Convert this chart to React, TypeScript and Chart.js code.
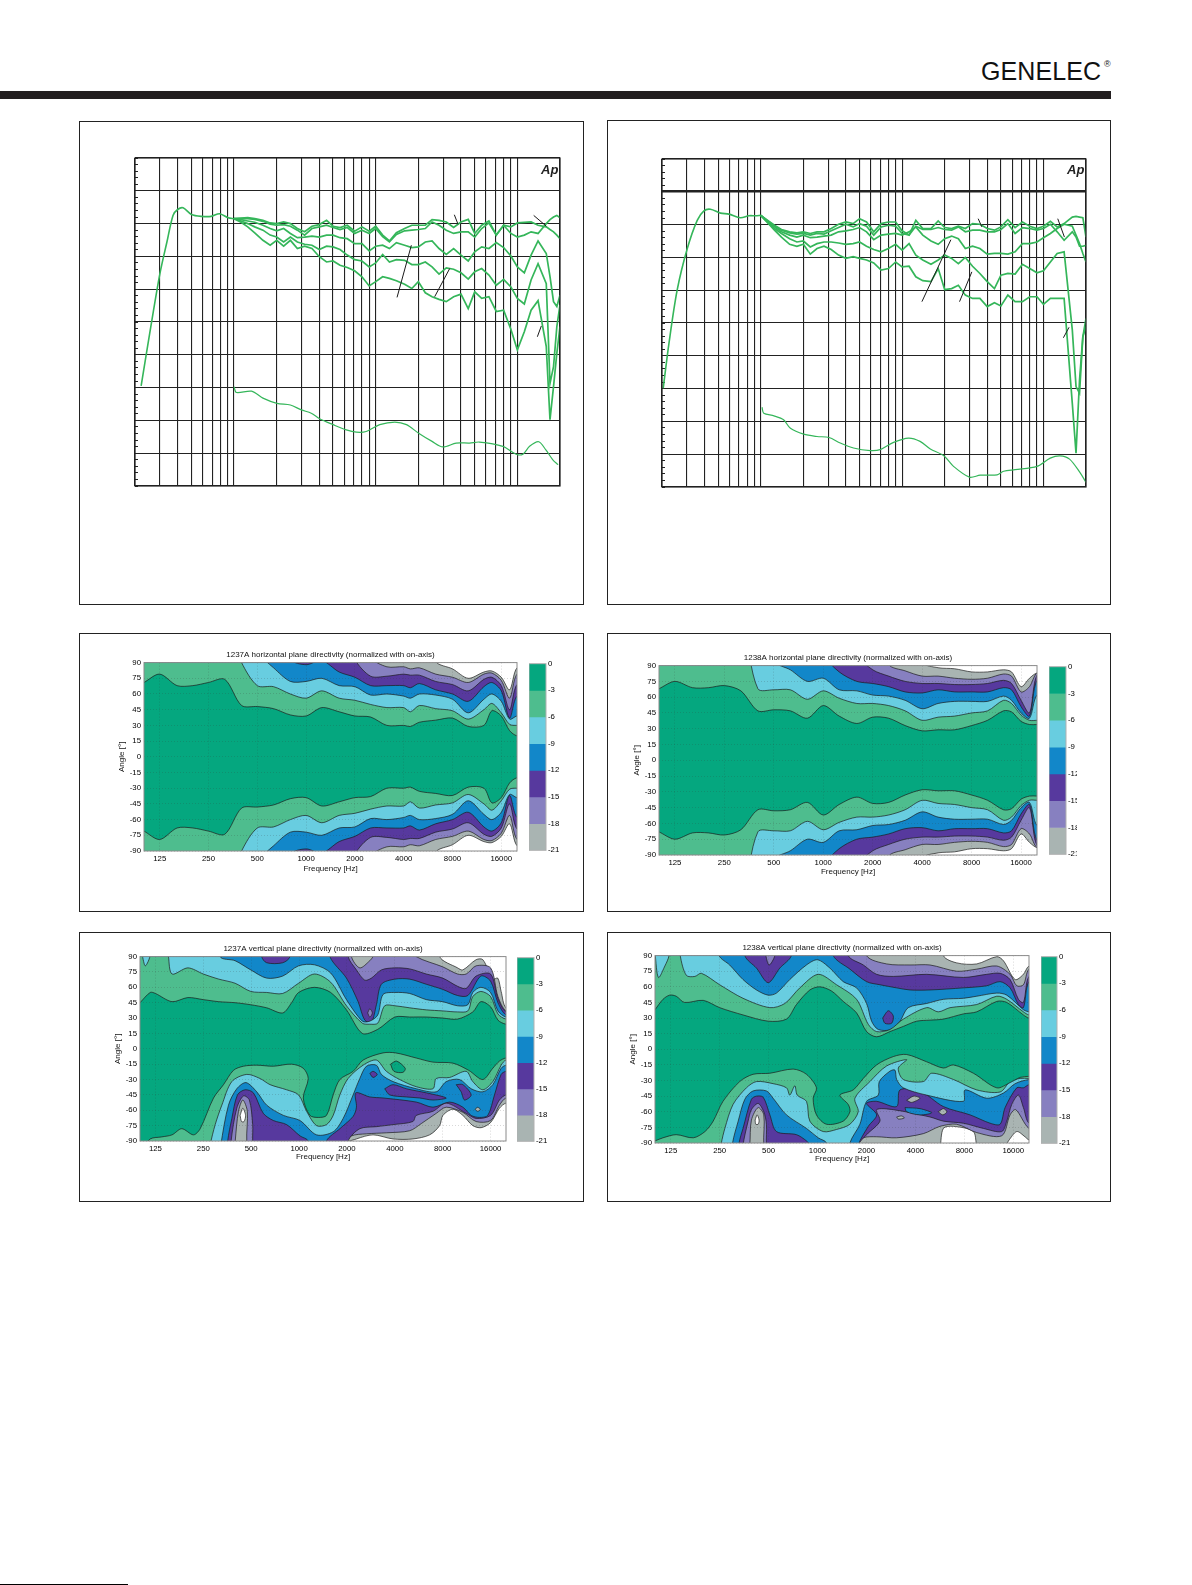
import React, { useEffect, useRef } from "react";
import { Chart, registerables } from "chart.js";

Chart.register(...registerables);

// ---------- frequency-response panels (dB vs Hz) ----------
const responseGridHz = [20,30,40,50,60,70,80,90,100,200,300,400,500,600,700,800,900,1000,2000,3000,4000,5000,6000,7000,8000,9000,10000,20000];
const responseHz = [100,112,125,140,160,180,200,224,250,280,315,355,400,450,500,560,630,710,800,900,1000,1120,1250,1400,1600,1800,2000,2240,2500,2800,3150,3550,4000,4500,5000,5600,6300,7100,8000,9000,10000,11200,12500,14000,16000,17000,18000,19000,20000];

const r37LowHz = [22.1,25.4,30,33.6,37.1,40,43.7,50,59,69,79,91,100];
const r37LowDb = [-49.5,-33.5,-15.2,-5.6,2.5,4.3,4.8,2.8,2.2,2.2,3,1.8,1.5];
const r37A = [1.5,1.7,1.8,1.5,1,.2,0,.5,0,-1.5,-2.5,-.8,-.3,1,-.8,-1.2,-.5,-2.3,-1,-2.3,-.8,-3.5,-5.3,-2.8,-1.5,-.5,-.5,-.5,1.2,1,.5,-1.2,.5,1.3,-3,-.5,.8,-3.5,-.5,-3,-4.1,-3.5,-2.5,-3,0,1.2,2,2.5,1.8];
const r37B = [1.5,1.5,1.5,1.3,.7,-.2,-.5,-.3,-.8,-2,-3.5,-1.5,-1,-.5,-1.2,-1.8,-1.2,-3,-2,-3,-1.5,-4,-5.6,-3.3,-2.2,-2,-1.8,-1.5,.5,-.5,-2,-3,-2.5,-2.5,-4.1,-1.5,.2,-3.5,-.5,-1,.2,.4,.5,-.5,-1,-1.8,-2.5,-3.5,-4.6];
const r37C = [1.5,1.2,.8,.4,-.5,-1.5,-2.2,-1.5,-3,-4.3,-4.1,-3.8,-4.1,-3.5,-3.5,-4.3,-4.6,-6.1,-6.1,-8.3,-6.9,-6.6,-7.6,-5.8,-6.6,-7.3,-7.1,-5.6,-5.3,-7.6,-9.4,-7.6,-9.6,-11.4,-8.6,-7.1,-7.6,-5.8,-7.3,-9.9,-13.2,-15,-9.6,-5.3,-9.1,-16.2,-23.8,-25.3,-21.8];
const r37D = [1.5,.8,0,-1,-2,-3.5,-4.1,-5.6,-4.1,-5.6,-6.3,-6.6,-7.9,-6.9,-7.1,-7.9,-9.6,-11,-11.4,-13.2,-12,-9.4,-11.7,-11,-11.2,-12.5,-12.5,-11.7,-13.2,-15.4,-13.5,-13.9,-15,-16.9,-14.7,-13.7,-15.7,-18.8,-17,-19.3,-22.8,-24.5,-17.2,-12.2,-18.3,-48.7,-43.6,-31.4,-24.8];
const r37E = [1.5,.4,-1,-2.8,-5.1,-6.6,-5.1,-6.9,-5.1,-7.6,-6.9,-7.6,-10.1,-11.7,-11.4,-12.7,-13.4,-14.4,-16.2,-19,-17.7,-16.2,-16.7,-17.4,-18.5,-19.8,-17.7,-21.1,-22.3,-23.1,-23.8,-22.3,-21.5,-25.9,-20.8,-22.8,-22.3,-26.8,-26.4,-32.2,-38.5,-33,-26.4,-23.5,-37.5,-59.8,-49.7,-39.5,-31.4];
const r37DiHz = [100,104,133,160,201,250,299,351,402,500,620,730,857,1068,1365,1650,2010,2500,2980,3700,4600,5400,7900,9800,10950,12200,14150,15900,17800,19400];
const r37DiDb = [-49.7,-51.5,-51.1,-53.2,-54.8,-55.3,-56.8,-57.8,-59.5,-61.3,-62.9,-63.6,-63.4,-61.3,-60.5,-61.3,-63.9,-66.4,-68.1,-66.9,-66.9,-66.6,-67.9,-70.3,-70.3,-67.9,-66.5,-69,-72,-73.5];
const r37Leaders = [[[3590,2.7],[3812,-.2]],[[13040,2.5],[16020,-.8]],[[1786,-6.6],[1415,-22.5]],[[3329,-13.7],[2608,-22.3]],[[14770,-31.2],[13840,-34.5]]];

const r38LowHz = [20.4,22.4,25.6,30.2,35.5,39.6,44,51.9,59.4,71.8,82.3,91.7,100];
const r38LowDb = [-49.9,-36.2,-20,-7.3,1.3,4.2,4.7,3.5,3.2,2.1,2.7,2.7,2.8];
const r38A = [2.8,1.3,-.2,-1.5,-2.2,-2.5,-2.2,-2.7,-2.2,-2.2,-1.2,.1,.8,.3,1.8,.8,-2.2,.3,.8,.8,-1.9,-3.2,1.3,-1.2,-1.2,1.1,-.9,-1.2,-.5,-1.2,.3,.1,-1.2,-1.7,-.7,1.5,-.9,.8,-.5,-1.2,-.5,1,-.7,.3,2.3,2.5,2.3,2.1,-3.8];
const r38B = [2.8,1.1,-.4,-1.7,-2.5,-2.9,-2.7,-3.2,-2.7,-2.9,-1.9,-.9,.1,-.7,.3,-.5,-3.2,-.7,-.2,-.5,-2.7,-3.2,-.5,-1.5,-1.5,-.9,-1.5,-1.7,-.7,-2.2,-1.7,-1.7,-2.2,-2.2,-1.5,.3,-2.7,-.9,-1.2,-1.7,-1.2,.1,-2.2,-4.8,-2.2,-3.8,-6.6,-6.6,-6.3];
const r38C = [2.8,.9,-.7,-2.2,-3.2,-3.8,-3.2,-4,-3.8,-3.5,-3.2,-2.2,-1.9,-1.5,-.9,-2.2,-4.6,-3.2,-2.9,-2.7,-3.2,-2.2,-.7,-3.2,-5,-6,-4.3,-3.5,-4.3,-7.3,-6.6,-7.3,-9,-8.8,-8.8,-9,-8.3,-5.8,-5.8,-5.3,-4,-2.7,-1.2,.1,-.5,-3.2,-5.8,-8.8,-11.4];
const r38D = [2.8,.7,-1.2,-2.7,-4.3,-5.3,-5,-6.8,-5.8,-5.3,-5.3,-5.6,-6,-5.8,-5.3,-6.6,-7.6,-8.3,-7.3,-6,-7.8,-5.8,-9.3,-10.8,-12.1,-10.8,-9.3,-10.3,-11.9,-10,-12.7,-14.9,-17.4,-19.5,-15.4,-14.9,-15.1,-12.1,-13.4,-14.7,-14.1,-11.4,-8.8,-8.3,-32.1,-49.4,-51.4,-34.2,-28.6];
const r38E = [2.8,.5,-1.7,-3.8,-6,-6.6,-6,-9,-7.3,-6.6,-7.6,-9.3,-10.3,-9.8,-10.3,-10.8,-11.7,-13.9,-13.4,-11.4,-12.9,-12.7,-15.9,-17.1,-17.4,-13.4,-19.8,-19.5,-18.5,-21.5,-22.5,-22.5,-25,-23.8,-24.8,-21.5,-23.5,-23.5,-22,-22,-24.3,-22.5,-22.5,-22.5,-54.5,-69.7,-47.4,-34.2,-31.1];
const r38DiHz = [102,105,124,145,162,201,250,304,365,453,595,700,870,1110,1340,1583,1965,2310,2995,3570,4700,5230,6300,9000,11170,13100,15300,18200,20000];
const r38DiDb = [-55.7,-57.5,-58.3,-59.5,-62.1,-63.9,-64.6,-64.9,-66.6,-68.1,-68.9,-68.6,-66.4,-65.1,-66.1,-68.4,-70.4,-73.7,-77,-76.4,-76.3,-75.2,-74.7,-73.7,-71.2,-70.5,-71.5,-75.7,-78.6];
const r38Leaders = [[[2214,-4.6],[1380,-23.5]],[[3115,-14.4],[2548,-23.5]],[[3453,1.8],[3666,-.7]],[[12620,1.8],[14070,-3.8]],[[15180,-31.3],[13840,-34.5]]];

// ---------- directivity contours (angle in degrees vs Hz) ----------
const octaveTicks = [125,250,500,1000,2000,4000,8000,16000];
const angleTicks = [-90,-75,-60,-45,-30,-15,0,15,30,45,60,75,90];
const colorbarBins = [-3,-3,-3,-3,-3,-3,-3];
const bandColors = ["#05a77f","#4ebd8e","#68cde0","#1287c9","#57399e","#8780c0","#a9b4b2"];

const h37Hz = [100,125,160,200,250,315,400,500,630,800,1000,1250,1600,2000,2500,3150,4000,4400,5000,6300,8000,10000,12500,14000,16000,18000,20000];
const h37L3 = [71,79,68,68,71,74,49,48,46,40,39,47,43,39,38,30,30,29,33,35,37,29,30,44,39,25,20];
const h37L6 = [130,130,130,130,130,130,90,68,67,60,56,63,56,54,50,47,47,43,49,46,44,36,45,51,42,31,30];
const h37L9 = [130,130,130,130,130,130,130,100,85,72,72,75,68,67,59,60,58,56,60,59,55,42,55,60,53,36,39];
const h37L12 = [130,130,130,130,130,130,130,130,130,93,88,92,81,76,68,68,68,66,70,64,60,53,67,71,63,37,58];
const h37L15 = [130,130,130,130,130,130,130,130,130,130,130,130,130,93,77,77,79,78,78,72,69,63,74,76,68,45,69];
const h37L18 = [130,130,130,130,130,130,130,130,130,130,130,130,130,130,95,86,86,84,85,79,76,71,79,80,73,56,79];
const h37L21 = [130,130,130,130,130,130,130,130,130,130,130,130,130,130,130,130,130,130,130,91,84,75,81,82,76,64,85];

const h38Hz = [100,125,160,200,250,315,400,500,630,800,1000,1250,1600,2000,2500,3150,4000,5000,6300,8000,10000,12500,14000,16000,18000,20000];
const h38L3 = [68,75,69,69,71,66,47,48,47,40,52,42,35,41,40,33,28,29,29,33,38,47,46,37,34,34];
const h38L6 = [130,130,130,130,130,130,68,67,67,58,66,59,54,54,52,47,38,41,42,45,47,57,54,43,38,38];
const h38L9 = [130,130,130,130,130,130,130,94,86,75,78,67,66,62,61,57,49,54,56,56,56,61,57,45,40,62];
const h38L12 = [130,130,130,130,130,130,130,130,130,130,100,84,75,73,70,65,64,67,65,65,65,69,67,51,42,76];
const h38L15 = [130,130,130,130,130,130,130,130,130,130,130,130,100,86,80,75,73,73,72,72,73,76,73,57,45,81];
const h38L18 = [130,130,130,130,130,130,130,130,130,130,130,130,130,130,91,85,80,80,78,77,78,82,80,65,70,83];
const h38L21 = [130,130,130,130,130,130,130,130,130,130,130,130,130,130,130,130,93,88,87,84,84,86,84,70,78,83];

type P = number[];
const v37U3: P[] = [[100,45],[116,55],[125,54],[159,46],[200,50],[250,48],[313,46],[396,45],[497,43],[626,40],[789,35],[898,45],[993,55],[1250,60],[1580,55],[1986,38],[2500,15],[3124,19],[4000,31],[4960,31],[6310,31],[8000,30],[9920,29],[12370,36],[13900,46],[16000,41],[17800,28],[20000,24]];
const v37U6: P[] = [[100,130],[140,130],[151,90],[159,73],[200,79],[250,73],[313,68],[396,64],[497,56],[626,55],[789,54],[993,64],[1250,73],[1580,65],[1986,42],[2500,25],[2785,24],[3124,25],[3455,42],[4000,42],[4960,40],[6310,38],[8000,37],[9920,36],[11510,37],[12370,51],[13900,56],[16000,51],[17800,34],[20000,29]];
const v37U9: P[] = [[100,130],[300,130],[319,90],[396,86],[497,77],[626,69],[789,71],[993,81],[1250,82],[1580,74],[1986,48],[2500,27],[2785,27],[3124,33],[3373,53],[4000,55],[4960,54],[6310,48],[8000,46],[9920,42],[11510,43],[12370,55],[13900,60],[16000,55],[17800,37],[20000,31]];
const v37U12: P[] = [[100,130],[540,130],[582,90],[626,84],[789,84],[877,90],[930,130],[1400,130],[1562,90],[1986,69],[2351,46],[2588,28],[2850,26],[3064,43],[3293,63],[4000,68],[4960,68],[6310,63],[8000,58],[9920,52],[11510,52],[13900,71],[16000,66],[17800,45],[20000,33]];
const v37U15: P[] = [[100,130],[1900,130],[2034,90],[2295,77],[2588,67],[2850,69],[3293,77],[4000,79],[4960,78],[6310,73],[8000,69],[9920,61],[11240,59],[12980,71],[16000,73],[17800,49],[20000,36]];
const v37U18: P[] = [[100,130],[2000,130],[2135,90],[2409,79],[2785,86],[2920,90],[3200,100],[5000,100],[5458,90],[8000,80],[9920,73],[11240,73],[12980,81],[16000,79],[17800,51],[20000,37]];
const v37U21: P[] = [[100,130],[7000,130],[7648,90],[9920,79],[10710,77],[12980,87],[14300,87],[16520,68],[17750,69],[18640,56],[20000,40]];
const v37D3: P[] = [[100,-100],[116,-88],[137,-86],[159,-84],[183,-78],[217,-84],[239,-78],[290,-48],[335,-35],[387,-21],[447,-17],[542,-16],[689,-17],[898,-15],[1063,-19],[1142,-29],[1063,-48],[1170,-65],[1320,-67],[1488,-65],[1639,-45],[1805,-30],[2187,-22],[2527,-11],[3373,-4],[4050,-4],[5458,-9],[6948,-13],[9270,-14],[11650,-21],[14300,-30],[16520,-19],[18190,-12],[20000,-9]];
const v37D6: P[] = [[100,-130],[250,-130],[276,-94],[297,-74],[327,-55],[378,-32],[469,-25],[568,-29],[657,-35],[835,-40],[993,-45],[1115,-61],[1288,-75],[1488,-74],[1639,-65],[1805,-45],[2034,-29],[2527,-16],[3064,-11],[3540,-22],[4292,-30],[5458,-37],[6948,-39],[7285,-29],[8835,-28],[11240,-22],[12370,-32],[14300,-40],[16520,-32],[18640,-16],[20000,-11]];
const v37D9: P[] = [[100,-130],[300,-130],[322,-94],[360,-55],[406,-39],[464,-33],[542,-42],[626,-55],[797,-65],[1013,-70],[1288,-84],[1639,-81],[1893,-68],[2187,-45],[2409,-29],[2652,-17],[3064,-16],[3293,-25],[3898,-32],[5458,-39],[7285,-42],[8420,-32],[10210,-30],[12080,-39],[14300,-42],[16520,-35],[18640,-19],[20000,-16]];
const v37D12: P[] = [[100,-130],[340,-130],[356,-90],[378,-68],[410,-45],[458,-40],[516,-43],[596,-63],[689,-70],[835,-74],[1013,-85],[1142,-90],[1200,-120],[1400,-120],[1488,-90],[1805,-78],[2187,-66],[2295,-57],[2273,-43],[2785,-47],[3373,-48],[5458,-52],[6948,-57],[8835,-52],[10710,-57],[12080,-65],[13620,-67],[15370,-65],[16930,-45],[18640,-25],[20000,-22]];
const v37D15: P[] = [[100,-130],[360,-130],[374,-90],[406,-58],[447,-46],[487,-50],[511,-74],[511,-90],[530,-120],[1900,-120],[2034,-90],[2409,-78],[3064,-76],[3898,-74],[5197,-71],[5458,-65],[6948,-61],[8420,-53],[11240,-63],[12980,-68],[16000,-65],[18190,-50],[20000,-45]];
const v37D18: P[] = [[100,-130],[380,-130],[397,-90],[416,-61],[443,-50],[473,-61],[469,-90],[500,-120],[1700,-120],[1822,-94],[2135,-85],[2652,-83],[3540,-82],[4960,-80],[5868,-73],[7285,-63],[8420,-57],[10710,-62],[12980,-71],[16000,-70],[18190,-55],[20000,-48]];
const v37D21: P[] = [[100,-130],[1700,-130],[1893,-94],[2295,-88],[2920,-84],[3898,-88],[5197,-88],[6620,-84],[7648,-75],[8023,-65],[9270,-59],[10710,-65],[12370,-75],[13950,-77],[16000,-72],[18190,-58],[20000,-53]];
const v37HoleWhite: P[] = [[426,-65],[443,-58],[461,-65],[451,-71],[435,-71]];
const v37BlobLightBlue: P[] = [[103,92],[108,81],[116,92],[110,100]];
const v37BlobTeal: P[] = [[3760,-15],[4100,-12],[4650,-19],[4500,-23],[3950,-22]];
const v37BlobLilac: P[] = [[2700,35],[2785,39],[2890,35],[2785,31]];
const v37PurpleA: P[] = [[3455,-39],[3898,-35],[4724,-39],[6310,-43],[8420,-48],[6948,-50],[5727,-48],[4724,-47],[3714,-45]];
const v37PurpleB: P[] = [[9730,-35],[10710,-35],[12080,-45],[10970,-50],[10450,-42]];
const v37PurpleC: P[] = [[2785,-24],[2920,-22],[3100,-25],[2920,-28]];
const v37GreyDot: P[] = [[13300,-57],[13800,-59],[13300,-61],[12800,-59]];

const v38U3: P[] = [[100,38],[112,48],[123,52],[135,51],[152,45],[198,47],[250,40],[348,33],[497,27],[644,29],[742,43],[897,57],[1033,60],[1219,56],[1439,46],[1738,35],[2004,17],[2309,12],[2789,17],[3371,22],[4072,27],[4919,28],[5944,29],[7896,34],[9540,36],[12670,46],[14600,45],[18480,33],[20000,30]];
const v38U6: P[] = [[100,92],[105,69],[115,80],[122,90],[128,120],[138,120],[143,90],[156,71],[176,70],[193,73],[250,62],[348,49],[509,40],[629,44],[778,59],[1009,72],[1309,62],[1738,48],[2052,24],[2309,17],[2789,19],[3371,29],[4693,40],[5536,36],[6534,40],[9540,43],[12670,51],[14600,48],[18480,36],[20000,33]];
const v38U9: P[] = [[100,130],[220,130],[248,90],[288,81],[348,67],[421,57],[497,52],[559,54],[675,67],[855,81],[1000,86],[1191,78],[1439,65],[1738,59],[2004,44],[2151,27],[2364,19],[2856,19],[3217,27],[3617,40],[4693,44],[5944,48],[7896,49],[9540,51],[12670,54],[14600,52],[18480,38],[20000,36]];
const v38U12: P[] = [[100,130],[340,130],[357,90],[421,78],[497,64],[586,78],[691,90],[760,130],[1100,130],[1249,90],[1582,77],[2004,65],[2421,62],[3067,59],[3702,57],[4919,57],[7896,59],[10990,61],[13280,65],[15300,59],[17220,43],[18480,40],[20000,65]];
const v38U15: P[] = [[100,130],[440,130],[481,90],[504,81],[546,90],[600,130],[1400,130],[1545,90],[1912,81],[2309,72],[2924,70],[4693,72],[7896,69],[10990,72],[13280,73],[15300,67],[17220,48],[18480,45],[20000,70]];
const v38U18: P[] = [[100,130],[1800,130],[2004,90],[2661,82],[3702,81],[4919,81],[7184,75],[9540,77],[12670,80],[15300,72],[16820,61],[18480,62],[20000,77]];
const v38U21: P[] = [[100,130],[5300,130],[5944,90],[7184,83],[9540,82],[12670,89],[13930,85],[16430,67],[18480,72],[20000,80]];
const v38D3: P[] = [[100,-88],[112,-85],[135,-82],[172,-85],[203,-79],[228,-69],[262,-50],[332,-31],[401,-24],[509,-23],[708,-19],[855,-24],[985,-37],[940,-47],[985,-63],[1136,-72],[1439,-69],[1582,-60],[1545,-53],[1373,-44],[1658,-39],[1912,-28],[2309,-15],[2924,-7],[3534,-5],[4693,-12],[5944,-18],[6852,-15],[9095,-23],[12670,-37],[15300,-32],[17640,-27],[20000,-26]];
const v38D6: P[] = [[100,-130],[230,-130],[256,-90],[269,-76],[302,-53],[365,-37],[421,-31],[533,-33],[644,-37],[675,-44],[725,-35],[750,-44],[855,-50],[897,-69],[1084,-79],[1309,-77],[1582,-72],[1780,-60],[1698,-47],[2101,-31],[2661,-16],[3534,-10],[3141,-18],[3371,-29],[4476,-31],[5038,-23],[6852,-29],[9540,-39],[13280,-41],[15300,-31],[17640,-28],[20000,-28]];
const v38D9: P[] = [[100,-130],[280,-130],[300,-90],[325,-69],[357,-48],[401,-40],[485,-40],[533,-47],[644,-63],[855,-76],[1009,-85],[1136,-90],[1200,-120],[1500,-120],[1582,-90],[1822,-72],[2004,-50],[2364,-44],[2398,-31],[2789,-21],[2994,-20],[3067,-29],[3371,-37],[4693,-44],[7896,-50],[8085,-39],[10990,-47],[13930,-42],[16430,-33],[20000,-29]];
const v38D12: P[] = [[100,-130],[310,-130],[329,-90],[348,-76],[392,-48],[421,-45],[463,-46],[509,-63],[559,-79],[742,-82],[855,-88],[897,-92],[950,-120],[1650,-120],[1780,-92],[2052,-74],[2309,-63],[2004,-52],[2309,-50],[3067,-55],[3217,-39],[4269,-40],[5944,-55],[8680,-63],[11530,-71],[13280,-72],[14260,-56],[16820,-37],[18480,-37],[20000,-34]];
const v38D15: P[] = [[100,-130],[330,-130],[348,-92],[374,-69],[392,-58],[431,-52],[467,-60],[485,-72],[485,-92],[520,-120],[1650,-120],[1780,-92],[2004,-82],[2421,-69],[2309,-58],[2924,-58],[4919,-65],[5944,-69],[7896,-71],[10480,-76],[13600,-79],[14600,-69],[15660,-53],[17220,-44],[18480,-56],[20000,-71]];
const v38D18: P[] = [[100,-130],[360,-130],[383,-92],[392,-68],[431,-56],[467,-63],[467,-92],[500,-120],[1650,-120],[1738,-92],[1912,-85],[2309,-84],[3067,-85],[4476,-81],[5670,-74],[7184,-72],[9540,-80],[13600,-83],[15300,-63],[16580,-58],[20000,-76]];
const v38D21: P[] = [[100,-130],[5000,-130],[5670,-95],[5944,-76],[6852,-74],[9095,-79],[9780,-95],[13930,-95],[14950,-88],[16820,-79],[18900,-84],[20000,-87]];
const v38HoleWhite: P[] = [[413,-68],[425,-63],[437,-68],[431,-72],[417,-72]];
const v38PurpleFinger: P[] = [[2514,30],[2725,37],[2924,32],[2856,25],[2599,25]];
const v38GreyA: P[] = [[3534,-49],[3900,-45],[4269,-47],[3800,-51]];
const v38GreyB: P[] = [[5536,-60],[5944,-57],[6250,-60],[5900,-63]];
const v38GreyC: P[] = [[3067,-65],[3290,-64],[3420,-66],[3141,-67]];
const v38BlueIsle: P[] = [[3451,-56],[4269,-57],[5038,-61],[4269,-63],[3534,-60]];

// ---------- helpers ----------
const FONT = "'Liberation Sans', Arial, sans-serif";
const OFF_RIGHT = 24000;
const zip = (xs: number[], ys: number[]): P[] => xs.map((x, i) => [x, ys[i]]);
const mirror = (pts: P[]): P[] => pts.map(([x, y]) => [x, -y]);
const closedBand = (upper: P[], lower: P[]): P[] => [
  ...upper,
  [OFF_RIGHT, upper[upper.length - 1][1]],
  [OFF_RIGHT, lower[lower.length - 1][1]],
  ...[...lower].reverse(),
];
const ring = (pts: P[]): P[] => [...pts, pts[0]];
const xy = (pts: P[]) => pts.map(([x, y]) => ({ x, y }));

const polygonFill = {
  id: "polygonFill",
  beforeDatasetDraw(chart: any, args: any) {
    const ds = chart.data.datasets[args.index];
    if (!ds.regionColor) return;
    const { ctx, chartArea: a } = chart;
    ctx.save();
    ctx.beginPath();
    ctx.rect(a.left, a.top, a.right - a.left, a.bottom - a.top);
    ctx.clip();
    ctx.beginPath();
    args.meta.dataset.path(ctx);
    ctx.closePath();
    ctx.fillStyle = ds.regionColor;
    ctx.fill();
    ctx.restore();
  },
};

const plotFrame = {
  id: "plotFrame",
  afterDraw(chart: any, _a: any, opts: any) {
    if (!opts.color) return;
    const { ctx, chartArea: a } = chart;
    ctx.save();
    ctx.strokeStyle = opts.color;
    ctx.lineWidth = opts.width || 1;
    ctx.strokeRect(a.left, a.top, a.right - a.left, a.bottom - a.top);
    ctx.restore();
  },
};

// ---------- chart configs ----------
type Layer = { color: string; pts: P[] };

function contourConfig(title: string, layers: Layer[], g: any) {
  const ordered = [...layers].reverse();
  return {
    type: "scatter",
    plugins: [polygonFill, plotFrame],
    data: {
      datasets: ordered.map((l) => ({
        data: xy(l.pts),
        showLine: true,
        tension: 0.3,
        capBezierPoints: false,
        pointRadius: 0,
        borderColor: "#1d1d1d",
        borderWidth: 0.7,
        fill: false,
        regionColor: l.color,
      })),
    },
    options: {
      responsive: false,
      animation: false,
      events: [],
      layout: { autoPadding: false, padding: { top: 2, left: 0, right: 0, bottom: 0 } },
      plugins: {
        legend: { display: false },
        tooltip: { enabled: false },
        plotFrame: { color: "#8a8a8a", width: 1 },
        title: {
          display: true,
          text: title,
          color: "#111",
          font: { family: FONT, size: 8, weight: "normal", lineHeight: 1.2 },
          padding: { top: 0, bottom: g.titleGap },
        },
      },
      scales: {
        x: {
          type: "logarithmic",
          min: 100,
          max: 20000,
          afterBuildTicks: (ax: any) => { ax.ticks = octaveTicks.map((value) => ({ value })); },
          afterFit: (ax: any) => { ax.height = g.xAxisH; },
          grid: { color: "rgba(50,50,50,0.28)", lineWidth: 0.7, drawTicks: false, z: 1 },
          border: { display: false, dash: [1, 2] },
          ticks: {
            autoSkip: false,
            maxRotation: 0,
            padding: 3,
            color: "#000",
            font: { family: FONT, size: 7.8 },
            callback: (v: any) => String(v),
          },
          title: {
            display: true,
            text: "Frequency [Hz]",
            color: "#111",
            font: { family: FONT, size: 8, lineHeight: 1.2 },
            padding: { top: 0, bottom: 1 },
          },
        },
        y: {
          min: -90,
          max: 90,
          afterBuildTicks: (ax: any) => { ax.ticks = angleTicks.map((value) => ({ value })); },
          afterFit: (ax: any) => { ax.width = g.pad; },
          grid: { color: "rgba(50,50,50,0.28)", lineWidth: 0.7, drawTicks: false, z: 1 },
          border: { display: false, dash: [1, 2] },
          ticks: {
            autoSkip: false,
            padding: 3,
            color: "#000",
            font: { family: FONT, size: 7.8 },
          },
          title: {
            display: true,
            text: "Angle [°]",
            color: "#111",
            font: { family: FONT, size: 8, lineHeight: 1.2 },
            padding: { top: 3, bottom: 0 },
          },
        },
        yRightSpacer: {
          position: "right",
          min: -90,
          max: 90,
          afterFit: (ax: any) => { ax.width = g.pad; },
          grid: { display: false, drawTicks: false },
          border: { display: false },
          ticks: { display: false },
        },
      },
    },
  };
}

function colorbarConfig(barW: number) {
  return {
    type: "bar",
    plugins: [plotFrame],
    data: {
      labels: [""],
      datasets: colorbarBins.map((v, i) => ({
        data: [v],
        backgroundColor: bandColors[i],
        borderWidth: 0,
        categoryPercentage: 1,
        barPercentage: 1,
      })),
    },
    options: {
      responsive: false,
      animation: false,
      events: [],
      layout: { autoPadding: false, padding: { top: 6, bottom: 6, left: 0, right: 0 } },
      plugins: {
        legend: { display: false },
        tooltip: { enabled: false },
        plotFrame: { color: "#b0b0b0", width: 1 },
      },
      scales: {
        x: { stacked: true, display: false },
        y: {
          stacked: true,
          position: "right",
          min: -21,
          max: 0,
          afterFit: (ax: any) => { ax.width = ax.chart.width - barW; },
          grid: { display: false, drawTicks: false },
          border: { display: false },
          ticks: {
            stepSize: 3,
            padding: 2,
            color: "#000",
            font: { family: FONT, size: 7.8 },
          },
        },
      },
    },
  };
}

function responseConfig(low: P[], curves: number[][], di: P[], leaders: P[][], strongDb: number | null) {
  const green = { borderColor: "#35b65a", pointRadius: 0, showLine: true, fill: false };
  const noFit = (ax: any) => { ax.width = 0; };
  return {
    type: "scatter",
    data: {
      datasets: [
        ...leaders.map((l) => ({ data: xy(l), showLine: true, pointRadius: 0, borderColor: "#1a1a1a", borderWidth: 1 })),
        { ...green, data: xy(low), borderWidth: 1.6, tension: 0.3, capBezierPoints: false },
        ...curves.map((c) => ({ ...green, data: xy(zip(responseHz, c)), borderWidth: 1.7 })),
        { ...green, data: xy(di), borderWidth: 1.2, tension: 0.3, capBezierPoints: false },
      ],
    },
    options: {
      responsive: false,
      animation: false,
      events: [],
      layout: { autoPadding: false, padding: 5 },
      plugins: {
        legend: { display: false },
        tooltip: { enabled: false },
        plotFrame: { color: "#222", width: 1.2 },
      },
      scales: {
        x: {
          type: "logarithmic",
          min: 20,
          max: 20000,
          afterBuildTicks: (ax: any) => { ax.ticks = responseGridHz.map((value) => ({ value })); },
          afterFit: (ax: any) => { ax.height = 0; },
          grid: { color: "#222", lineWidth: 1.1, drawTicks: false },
          border: { display: false },
          ticks: { display: false, autoSkip: false },
        },
        y: {
          min: -80,
          max: 20,
          afterFit: noFit,
          grid: {
            color: "#222",
            lineWidth: (c: any) => (strongDb !== null && c.tick && c.tick.value === strongDb ? 2.6 : 1.1),
            drawTicks: false,
          },
          border: { display: false },
          ticks: { display: false, stepSize: 10 },
        },
        y2: {
          position: "left",
          min: -80,
          max: 20,
          afterFit: noFit,
          grid: { drawOnChartArea: false, drawTicks: true, tickLength: -3, color: "#222", lineWidth: 1 },
          border: { display: false },
          ticks: { display: false, stepSize: 2 },
        },
      },
    },
  };
}

// ---------- layers ----------
const [C_TEAL, C_GREEN, C_LBLUE, C_BLUE, C_PURPLE, C_LILAC, C_GREY] = bandColors;
const bandLayer = (color: string, upper: P[], lower: P[]): Layer => ({ color, pts: closedBand(upper, lower) });
const isle = (color: string, pts: P[]): Layer => ({ color, pts: ring(pts) });
const gridBand = (color: string, hz: number[], level: number[]): Layer => {
  const u = zip(hz, level);
  return bandLayer(color, u, mirror(u));
};

const layersH37: Layer[] = [
  gridBand(C_GREY, h37Hz, h37L21), gridBand(C_LILAC, h37Hz, h37L18), gridBand(C_PURPLE, h37Hz, h37L15),
  gridBand(C_BLUE, h37Hz, h37L12), gridBand(C_LBLUE, h37Hz, h37L9), gridBand(C_GREEN, h37Hz, h37L6), gridBand(C_TEAL, h37Hz, h37L3),
];
const layersH38: Layer[] = [
  gridBand(C_GREY, h38Hz, h38L21), gridBand(C_LILAC, h38Hz, h38L18), gridBand(C_PURPLE, h38Hz, h38L15),
  gridBand(C_BLUE, h38Hz, h38L12), gridBand(C_LBLUE, h38Hz, h38L9), gridBand(C_GREEN, h38Hz, h38L6), gridBand(C_TEAL, h38Hz, h38L3),
];
const layersV37: Layer[] = [
  bandLayer(C_GREY, v37U21, v37D21), isle("#ffffff", v37HoleWhite),
  bandLayer(C_LILAC, v37U18, v37D18),
  bandLayer(C_PURPLE, v37U15, v37D15), isle(C_LILAC, v37BlobLilac),
  bandLayer(C_BLUE, v37U12, v37D12), isle(C_PURPLE, v37PurpleA), isle(C_PURPLE, v37PurpleB), isle(C_PURPLE, v37PurpleC), isle(C_GREY, v37GreyDot),
  bandLayer(C_LBLUE, v37U9, v37D9),
  bandLayer(C_GREEN, v37U6, v37D6), isle(C_LBLUE, v37BlobLightBlue),
  bandLayer(C_TEAL, v37U3, v37D3), isle(C_TEAL, v37BlobTeal),
];
const layersV38: Layer[] = [
  bandLayer(C_GREY, v38U21, v38D21), isle("#ffffff", v38HoleWhite),
  bandLayer(C_LILAC, v38U18, v38D18),
  bandLayer(C_PURPLE, v38U15, v38D15),
  bandLayer(C_BLUE, v38U12, v38D12), isle(C_PURPLE, v38PurpleFinger), isle(C_GREY, v38GreyA), isle(C_GREY, v38GreyB), isle(C_GREY, v38GreyC), isle(C_BLUE, v38BlueIsle),
  bandLayer(C_LBLUE, v38U9, v38D9),
  bandLayer(C_GREEN, v38U6, v38D6),
  bandLayer(C_TEAL, v38U3, v38D3),
];

// ---------- page pieces ----------
function ChartCanvas({ left, top, width, height, make, blur }: any) {
  const ref = useRef<HTMLCanvasElement>(null);
  useEffect(() => {
    const chart = new Chart(ref.current as any, make());
    return () => chart.destroy();
  }, []);
  return (
    <canvas
      ref={ref}
      width={width}
      height={height}
      style={{ position: "absolute", left, top, width, height, filter: blur ? `blur(${blur}px)` : undefined }}
    />
  );
}

function ContourPanel({ title, layers, plot, bar, titleGap, xAxisH }: any) {
  const pad = 30;
  const head = 2 + 9.6 + titleGap;
  const w = plot.right - plot.left + 2 * pad;
  const h = Math.round(head + plot.bottom - plot.top + xAxisH);
  const g = { pad, titleGap, xAxisH };
  return (
    <>
      <ChartCanvas
        left={plot.left - pad}
        top={Math.round(plot.top - head)}
        width={w}
        height={h}
        blur={0.3}
        make={() => contourConfig(title, layers, g)}
      />
      <ChartCanvas
        left={bar.left}
        top={bar.top - 6}
        width={bar.room}
        height={bar.bottom - bar.top + 12}
        blur={0.3}
        make={() => colorbarConfig(bar.w)}
      />
    </>
  );
}

const frameStyle = (l: number, t: number, r: number, b: number): React.CSSProperties => ({
  position: "absolute",
  left: l,
  top: t,
  width: r - l,
  height: b - t,
  border: "1px solid #222",
  boxSizing: "border-box",
  background: "#fff",
});

const apStyle = (left: number, top: number): React.CSSProperties => ({
  position: "absolute",
  left,
  top,
  font: `italic bold 13px ${FONT}`,
  lineHeight: "14px",
  color: "#222",
});

export default function App() {
  return (
    <div style={{ position: "absolute", left: 0, top: 0, width: 1192, height: 1585, overflow: "hidden", background: "#fff" }}>
      <div style={{ position: "absolute", left: 0, top: 91, width: 1111, height: 8, background: "#231f20" }} />
      <div style={{ position: "absolute", left: 981, top: 56, font: `25px/30px ${FONT}`, color: "#111", letterSpacing: "0.1px" }}>GENELEC</div>
      <div style={{ position: "absolute", left: 1104, top: 59, font: `9px/10px ${FONT}`, color: "#111" }}>®</div>
      <div style={{ position: "absolute", left: 0, top: 1584, width: 128, height: 1, background: "#000" }} />

      <div style={frameStyle(79, 121, 584, 605)} />
      <div style={frameStyle(607, 120, 1111, 605)} />
      <div style={frameStyle(79, 633, 584, 912)} />
      <div style={frameStyle(607, 633, 1111, 912)} />
      <div style={frameStyle(79, 932, 584, 1202)} />
      <div style={frameStyle(607, 932, 1111, 1202)} />

      <ChartCanvas
        left={130} top={153} width={435} height={338} blur={0.25}
        make={() => ({ ...responseConfig(zip(r37LowHz, r37LowDb), [r37A, r37B, r37C, r37D, r37E], zip(r37DiHz, r37DiDb), r37Leaders, null), plugins: [plotFrame] })}
      />
      <div style={apStyle(541, 163)}>Ap</div>
      <ChartCanvas
        left={657} top={154} width={434} height={338} blur={0.25}
        make={() => ({ ...responseConfig(zip(r38LowHz, r38LowDb), [r38A, r38B, r38C, r38D, r38E], zip(r38DiHz, r38DiDb), r38Leaders, 10), plugins: [plotFrame] })}
      />
      <div style={apStyle(1067, 163)}>Ap</div>

      <ContourPanel
        title="1237A horizontal plane directivity (normalized with on-axis)"
        layers={layersH37}
        plot={{ left: 144, right: 517, top: 663, bottom: 851 }}
        bar={{ left: 529, top: 663, bottom: 851, w: 17, room: 32 }}
        titleGap={3}
        xAxisH={24}
      />
      <ContourPanel
        title="1238A horizontal plane directivity (normalized with on-axis)"
        layers={layersH38}
        plot={{ left: 659, right: 1037, top: 666, bottom: 855 }}
        bar={{ left: 1049, top: 666, bottom: 855, w: 17, room: 28 }}
        titleGap={3}
        xAxisH={23}
      />
      <ContourPanel
        title="1237A vertical plane directivity (normalized with on-axis)"
        layers={layersV37}
        plot={{ left: 140, right: 506, top: 957, bottom: 1141 }}
        bar={{ left: 517, top: 957, bottom: 1142, w: 17, room: 32 }}
        titleGap={3}
        xAxisH={22}
      />
      <ContourPanel
        title="1238A vertical plane directivity (normalized with on-axis)"
        layers={layersV38}
        plot={{ left: 655, right: 1029, top: 956, bottom: 1143 }}
        bar={{ left: 1041, top: 956, bottom: 1144, w: 16, room: 32 }}
        titleGap={3}
        xAxisH={22}
      />
    </div>
  );
}
